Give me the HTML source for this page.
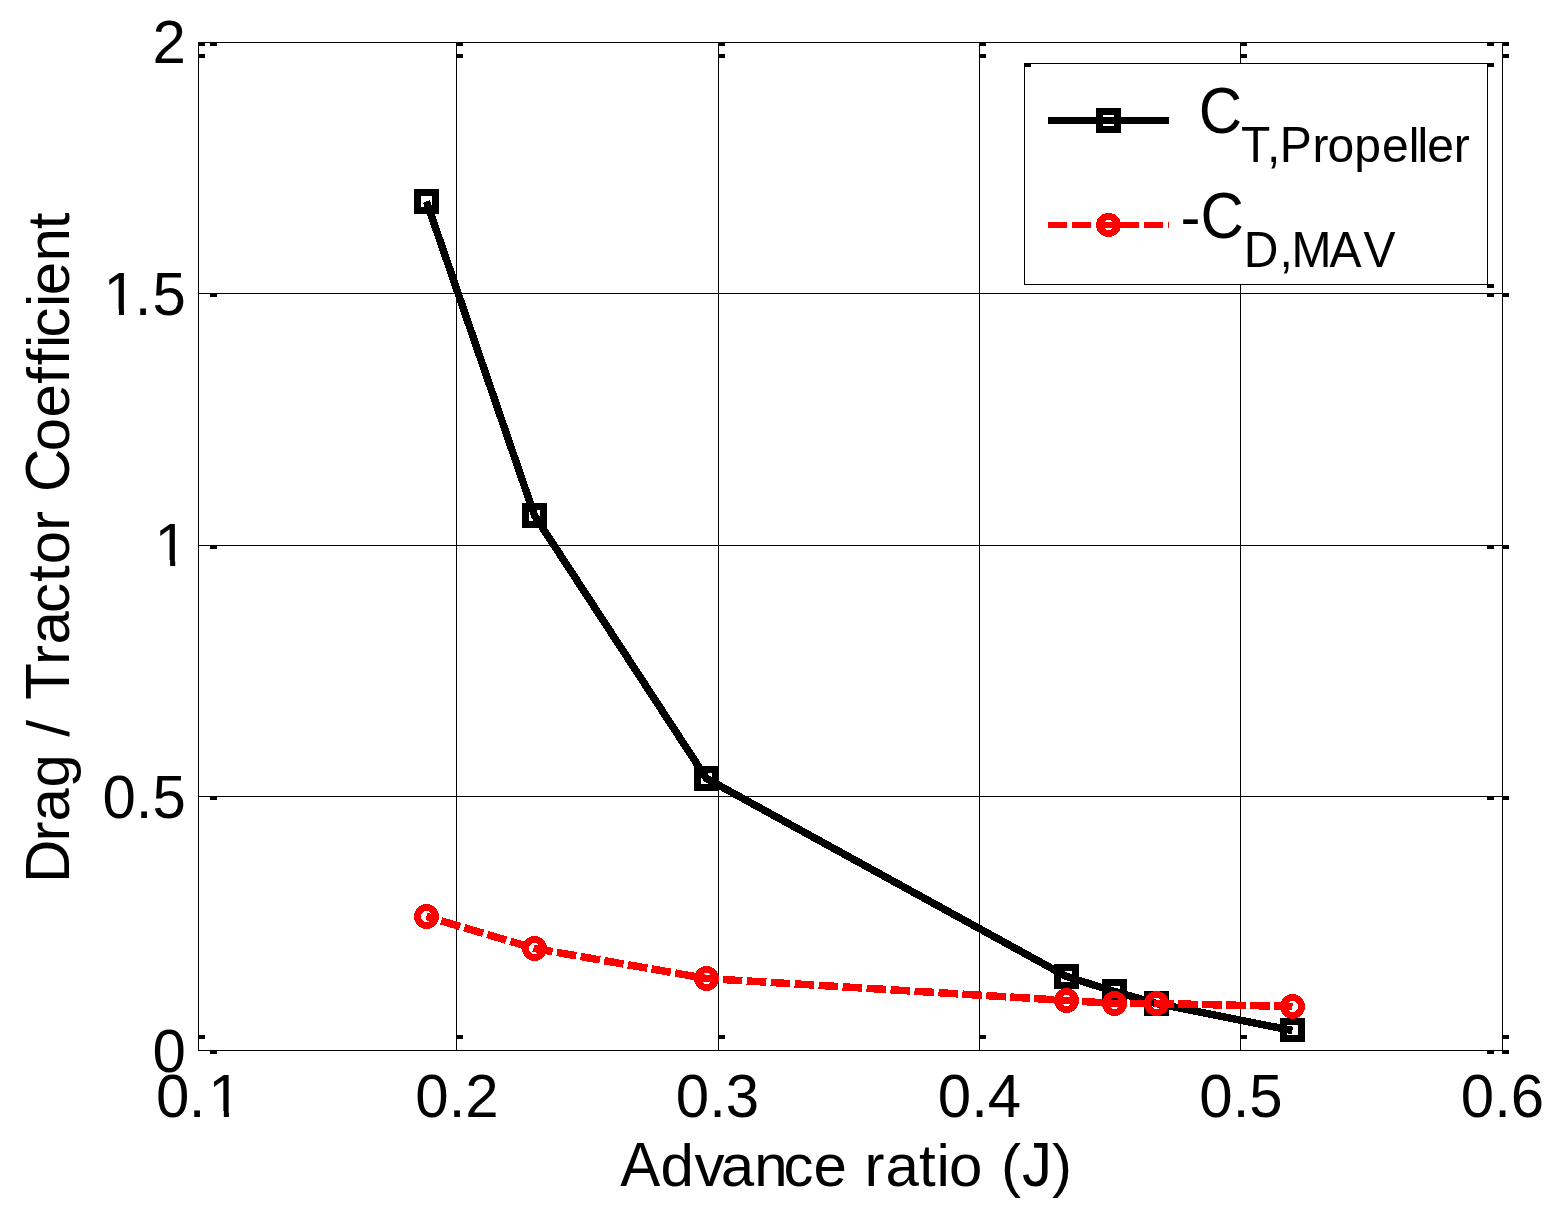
<!DOCTYPE html>
<html><head><meta charset="utf-8"><title>Drag / Tractor Coefficient vs Advance ratio</title>
<style>html,body{margin:0;padding:0;background:#fff;}svg{display:block;}text{font-family:"Liberation Sans",Arial,Helvetica,sans-serif;fill:#000;font-kerning:none;}</style>
</head><body>
<svg width="1568" height="1212" viewBox="0 0 1568 1212" shape-rendering="crispEdges">
<rect x="0" y="0" width="1568" height="1212" fill="#fff"/>
<defs><clipPath id="c1" clipPathUnits="userSpaceOnUse"><rect x="-2" y="-50" width="42" height="44"/><rect x="15.5" y="-6.2" width="5.1" height="8"/></clipPath></defs>
<g fill="#000">
<rect x="456" y="42" width="1" height="1009"/>
<rect x="718" y="42" width="1" height="1009"/>
<rect x="979" y="42" width="1" height="1009"/>
<rect x="1240" y="42" width="1" height="1009"/>
<rect x="198" y="293" width="1305" height="1"/>
<rect x="198" y="545" width="1305" height="1"/>
<rect x="198" y="796" width="1305" height="1"/>
<rect x="198" y="42" width="1305" height="1"/>
<rect x="198" y="1050" width="1305" height="1"/>
<rect x="198" y="42" width="1" height="1009"/>
<rect x="1502" y="42" width="1" height="1009"/>
<rect x="198" y="42" width="7" height="4"/>
<rect x="198" y="54" width="7" height="4"/>
<rect x="198" y="1035" width="7" height="4"/>
<rect x="456" y="42" width="7" height="4"/>
<rect x="456" y="54" width="7" height="4"/>
<rect x="456" y="1035" width="7" height="4"/>
<rect x="718" y="42" width="7" height="4"/>
<rect x="718" y="54" width="7" height="4"/>
<rect x="718" y="1035" width="7" height="4"/>
<rect x="979" y="42" width="7" height="4"/>
<rect x="979" y="54" width="7" height="4"/>
<rect x="979" y="1035" width="7" height="4"/>
<rect x="1240" y="42" width="7" height="4"/>
<rect x="1240" y="54" width="7" height="4"/>
<rect x="1240" y="1035" width="7" height="4"/>
<rect x="1502" y="42" width="7" height="4"/>
<rect x="1502" y="54" width="7" height="4"/>
<rect x="1502" y="1035" width="7" height="4"/>
<rect x="210" y="42" width="7" height="4"/>
<rect x="1487" y="42" width="7" height="4"/>
<rect x="1502" y="42" width="7" height="4"/>
<rect x="210" y="293" width="7" height="4"/>
<rect x="1487" y="293" width="7" height="4"/>
<rect x="1502" y="293" width="7" height="4"/>
<rect x="210" y="545" width="7" height="4"/>
<rect x="1487" y="545" width="7" height="4"/>
<rect x="1502" y="545" width="7" height="4"/>
<rect x="210" y="796" width="7" height="4"/>
<rect x="1487" y="796" width="7" height="4"/>
<rect x="1502" y="796" width="7" height="4"/>
<rect x="210" y="1050" width="7" height="4"/>
<rect x="1487" y="1050" width="7" height="4"/>
<rect x="1502" y="1050" width="7" height="4"/>
</g>
<polyline fill="none" stroke="#000" stroke-width="7.5" stroke-linejoin="round" points="426.5,201.5 534.5,515.5 706.5,778.5 1066.5,976.5 1114.5,991.5 1156.5,1003.5 1292.5,1030.5"/>
<g fill="none" stroke="#000" stroke-width="7">
<rect x="417.5" y="192.5" width="18" height="18"/>
<rect x="525.5" y="506.5" width="18" height="18"/>
<rect x="697.5" y="769.5" width="18" height="18"/>
<rect x="1057.5" y="967.5" width="18" height="18"/>
<rect x="1105.5" y="982.5" width="18" height="18"/>
<rect x="1147.5" y="994.5" width="18" height="18"/>
<rect x="1283.5" y="1021.5" width="18" height="17"/>
</g>
<polyline fill="none" stroke="#f00" stroke-width="7.5" stroke-dasharray="19.6 4.41" stroke-dashoffset="8.6" points="426.5,916.5 534.5,948.5 706.5,978.5 1066.5,1000.5 1114.5,1003.5 1156.5,1003.5 1292.5,1006.5"/>
<g fill="none" stroke="#f00" stroke-width="7">
<circle cx="426.5" cy="916.5" r="9"/>
<circle cx="534.5" cy="948.5" r="9"/>
<circle cx="706.5" cy="978.5" r="9"/>
<circle cx="1066.5" cy="1000.5" r="9"/>
<circle cx="1114.5" cy="1003.5" r="9"/>
<circle cx="1156.5" cy="1003.5" r="9"/>
<circle cx="1292.5" cy="1006.5" r="9"/>
</g>
<rect x="1024" y="63" width="464" height="222" fill="#fff"/>
<g fill="#000">
<rect x="1024" y="63" width="464" height="1"/>
<rect x="1024" y="284" width="464" height="1"/>
<rect x="1024" y="63" width="1" height="222"/>
<rect x="1487" y="63" width="1" height="222"/>
<rect x="1024" y="63" width="7" height="4"/>
<rect x="1487" y="63" width="7" height="4"/>
<rect x="1487" y="284" width="7" height="4"/>
<rect x="1048" y="117" width="121" height="7"/>
</g>
<rect x="1099.5" y="111.500" width="18" height="18" fill="none" stroke="#000" stroke-width="7"/>
<line x1="1048" y1="225" x2="1169" y2="225" stroke="#f00" stroke-width="6" stroke-dasharray="19 5"/>
<ellipse cx="1108.5" cy="225" rx="9" ry="8.5" fill="none" stroke="#f00" stroke-width="7"/>
<g font-size="60px">
<text transform="translate(185.8,63.2) scale(1,1.025)" text-anchor="end">2</text>
<text transform="translate(103.4,315.2) scale(1,1.025)" x="0" y="0" clip-path="url(#c1)">1</text>
<text transform="translate(185.8,315.2) scale(1,1.025)" x="-51.04 -33.38" y="0">.5</text>
<text transform="translate(154.62,566.2) scale(1,1.025)" x="0" y="0" clip-path="url(#c1)">1</text>
<text transform="translate(185.8,818.2) scale(1,1.025)" text-anchor="end">0.5</text>
<text transform="translate(185.8,1072.2) scale(1,1.025)" text-anchor="end">0</text>
<text transform="translate(199,1117.2) scale(1,1.025)" x="-43.1 -10.3" y="0">0.</text>
<text transform="translate(208.32,1117.2) scale(1,1.025)" x="0" y="0" clip-path="url(#c1)">1</text>
<text transform="translate(457,1117.2) scale(1,1.025)" text-anchor="middle">0.2</text>
<text transform="translate(717.5,1117.2) scale(1,1.025)" text-anchor="middle">0.3</text>
<text transform="translate(979.5,1117.2) scale(1,1.025)" text-anchor="middle">0.4</text>
<text transform="translate(1241,1117.2) scale(1,1.025)" text-anchor="middle">0.5</text>
<text transform="translate(1502.5,1117.2) scale(1,1.025)" text-anchor="middle">0.6</text>
<text transform="translate(620.2,1185.6) scale(1,1.04)" x="0" y="0" xml:space="preserve">A</text>
<text transform="translate(620.2,1185.6)" x="40.33 74.41 100.51 133.98 163.26 193.36 226.73 244.4 265.19 298.76 316.33 328.88 362.25 380.73" y="0" xml:space="preserve">dvance ratio (</text>
<text transform="translate(620.2,1185.6) scale(1,1.04)" x="401.71" y="0" xml:space="preserve">J</text>
<text transform="translate(620.2,1185.6)" x="431.71" y="0" xml:space="preserve">)</text>
<text transform="translate(69,883.0) rotate(-90) scale(1,1.04)" x="0.1" y="0" xml:space="preserve">D</text>
<text transform="translate(69,883.0) rotate(-90)" x="41.44 61.53 95.5 128.88 146.15 162.82" y="0" xml:space="preserve">rag / </text>
<text transform="translate(69,883.0) rotate(-90) scale(1,1.04)" x="183.19" y="0" xml:space="preserve">T</text>
<text transform="translate(69,883.0) rotate(-90)" x="217.95 238.63 270.01 301.01 318.78 352.06 372.04" y="0" xml:space="preserve">ractor </text>
<text transform="translate(69,883.0) rotate(-90) scale(1,1.04)" x="390.91" y="0" xml:space="preserve">C</text>
<text transform="translate(69,883.0) rotate(-90)" x="431.66 465.63 499.31 517.68 534.95 545.49 575.99 587.84 621.61 653.79" y="0" xml:space="preserve">oefficient</text>
<text transform="translate(1198.7,132.7) scale(1,1.08)" text-anchor="start">C</text>
<g font-size="48px">
<text transform="translate(1241.0,162) scale(1,1.04)" text-anchor="start"><tspan dx="0 -3.2 -0.8">T,P</tspan></text>
<text transform="translate(1312.5,162)" text-anchor="start"><tspan dx="0 -0.9 0.0 1.1 0 -2 -0.8 -0.3">ropeller</tspan></text>
</g>
<text transform="translate(1180.5,236.7)" text-anchor="start">-</text>
<text transform="translate(1200.5,237.7) scale(1,1.08)" text-anchor="start">C</text>
<g font-size="48px">
<text transform="translate(1243.8,267) scale(1,1.04)" text-anchor="start"><tspan dx="0 1 -1.2 -2.1 2.0">D,MAV</tspan></text>
</g>
</g>
</svg></body></html>
